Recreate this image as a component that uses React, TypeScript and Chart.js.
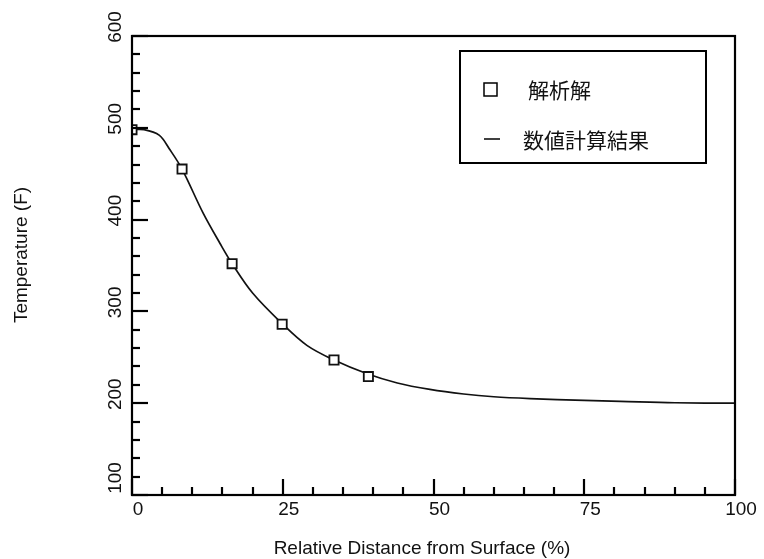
import React, { useEffect, useRef } from "react";
import { Chart, registerables } from "chart.js";

Chart.register(...registerables);

// Analytical solution (square markers)
const analyticX = [0, 8.3, 16.6, 24.9, 33.5, 39.2];
const analyticY = [498, 455, 352, 286, 247, 229];

// Numerical result (solid line)
const numericX = [0, 2, 4.5, 6.3, 8.3, 11.8, 14.6, 16.6, 20, 25, 29, 33.5, 39, 44, 49.4, 55, 60, 66, 75, 81, 90, 100];
const numericY = [498, 498, 492, 476, 455, 407, 374, 352, 320, 286, 263, 247, 232, 222, 215, 210, 207, 205, 203, 202, 200.5, 200];

const xTickLabels = ["0", "25", "50", "75", "100"];
const yTickLabels = ["100", "200", "300", "400", "500", "600"];

const legendLabels = ["解析解", "数値計算結果"];
const xTitle = "Relative Distance from Surface (%)";
const yTitle = "Temperature (F)";

const FONT = '"Liberation Sans", Arial, sans-serif';
const CJK = '"Noto Sans CJK JP", "Noto Sans CJK SC", sans-serif';

const decorPlugin = {
  id: "decor",
  afterDraw(chart: any) {
    const ctx = chart.ctx as CanvasRenderingContext2D;
    const { left, right, top, bottom } = chart.chartArea;
    const xs = chart.scales.x;
    const ys = chart.scales.y;
    ctx.save();
    ctx.strokeStyle = "#000";
    ctx.fillStyle = "#000";
    // frame
    ctx.lineWidth = 2.2;
    ctx.strokeRect(left, top, right - left, bottom - top);
    // ticks
    ctx.lineWidth = 2.2;
    ys.ticks.forEach((t: any) => {
      const y = Math.round(ys.getPixelForValue(t.value));
      const len = t.value % 100 === 0 ? 16 : 8;
      ctx.beginPath();
      ctx.moveTo(left, y);
      ctx.lineTo(left + len, y);
      ctx.stroke();
    });
    xs.ticks.forEach((t: any) => {
      const x = Math.round(xs.getPixelForValue(t.value));
      const len = t.value % 25 === 0 ? 16 : 8;
      ctx.beginPath();
      ctx.moveTo(x, bottom);
      ctx.lineTo(x, bottom - len);
      ctx.stroke();
    });
    // y tick labels (rotated)
    ctx.font = `19px ${FONT}`;
    ctx.fillStyle = "#111";
    yTickLabels.forEach((lab) => {
      const v = parseFloat(lab);
      let y = ys.getPixelForValue(v) - 9;
      y = Math.min(y, bottom - 17);
      ctx.save();
      ctx.translate(left - 16, y);
      ctx.rotate(-Math.PI / 2);
      ctx.textAlign = "center";
      ctx.textBaseline = "middle";
      ctx.fillText(lab, 0, 0);
      ctx.restore();
    });
    // x tick labels
    ctx.textAlign = "center";
    ctx.textBaseline = "top";
    xTickLabels.forEach((lab) => {
      const v = parseFloat(lab);
      const x = xs.getPixelForValue(v) + 6;
      ctx.fillText(lab, x, bottom + 5);
    });
    // axis titles
    ctx.font = `19px ${FONT}`;
    ctx.textAlign = "center";
    ctx.textBaseline = "alphabetic";
    ctx.fillText(xTitle, 422, 554);
    ctx.save();
    ctx.translate(27, 255);
    ctx.rotate(-Math.PI / 2);
    ctx.textAlign = "center";
    ctx.textBaseline = "alphabetic";
    ctx.fillText(yTitle, 0, 0);
    ctx.restore();
    // legend
    ctx.lineWidth = 2;
    ctx.strokeStyle = "#000";
    ctx.strokeRect(460, 51, 246, 112);
    ctx.lineWidth = 1.5;
    ctx.strokeRect(484, 83, 13, 13);
    ctx.beginPath();
    ctx.moveTo(484, 139);
    ctx.lineTo(500, 139);
    ctx.stroke();
    ctx.font = `21px ${CJK}`;
    ctx.textAlign = "left";
    ctx.textBaseline = "middle";
    ctx.fillStyle = "#111";
    ctx.fillText(legendLabels[0], 528, 90);
    ctx.fillText(legendLabels[1], 523, 140);
    ctx.restore();
  },
};

export default function App() {
  const ref = useRef<HTMLCanvasElement>(null);
  useEffect(() => {
    if (!ref.current) return;
    const chart = new Chart(ref.current, {
      type: "scatter",
      data: {
        datasets: [
          {
            label: legendLabels[0],
            data: analyticX.map((x, i) => ({ x, y: analyticY[i] })),
            pointStyle: "rect",
            pointRadius: 6.5,
            pointBorderWidth: 1.8,
            pointBorderColor: "#111",
            pointBackgroundColor: "#fff",
            showLine: false,
            order: 0,
          },
          {
            label: legendLabels[1],
            data: numericX.map((x, i) => ({ x, y: numericY[i] })),
            showLine: true,
            borderColor: "#111",
            borderWidth: 1.7,
            pointRadius: 0,
            tension: 0.35,
            order: 1,
          } as any,
        ],
      },
      options: {
        responsive: false,
        animation: false,
        devicePixelRatio: 1,
        layout: { padding: { left: 132, top: 36, right: 29, bottom: 64 } },
        plugins: { legend: { display: false }, tooltip: { enabled: false } },
        scales: {
          x: {
            type: "linear",
            min: 0,
            max: 100,
            ticks: { display: false, stepSize: 5 },
            grid: { display: false },
            border: { display: false },
            afterFit: (s: any) => { s.height = 0; },
          },
          y: {
            type: "linear",
            min: 100,
            max: 600,
            ticks: { display: false, stepSize: 20 },
            grid: { display: false },
            border: { display: false },
            afterFit: (s: any) => { s.width = 0; },
          },
        },
      },
      plugins: [decorPlugin],
    });
    return () => chart.destroy();
  }, []);
  return (
    <div style={{ position: "fixed", left: 0, top: 0, width: 764, height: 559, background: "#fff" }}>
      <canvas ref={ref} width={764} height={559} style={{ width: 764, height: 559 }} />
    </div>
  );
}
